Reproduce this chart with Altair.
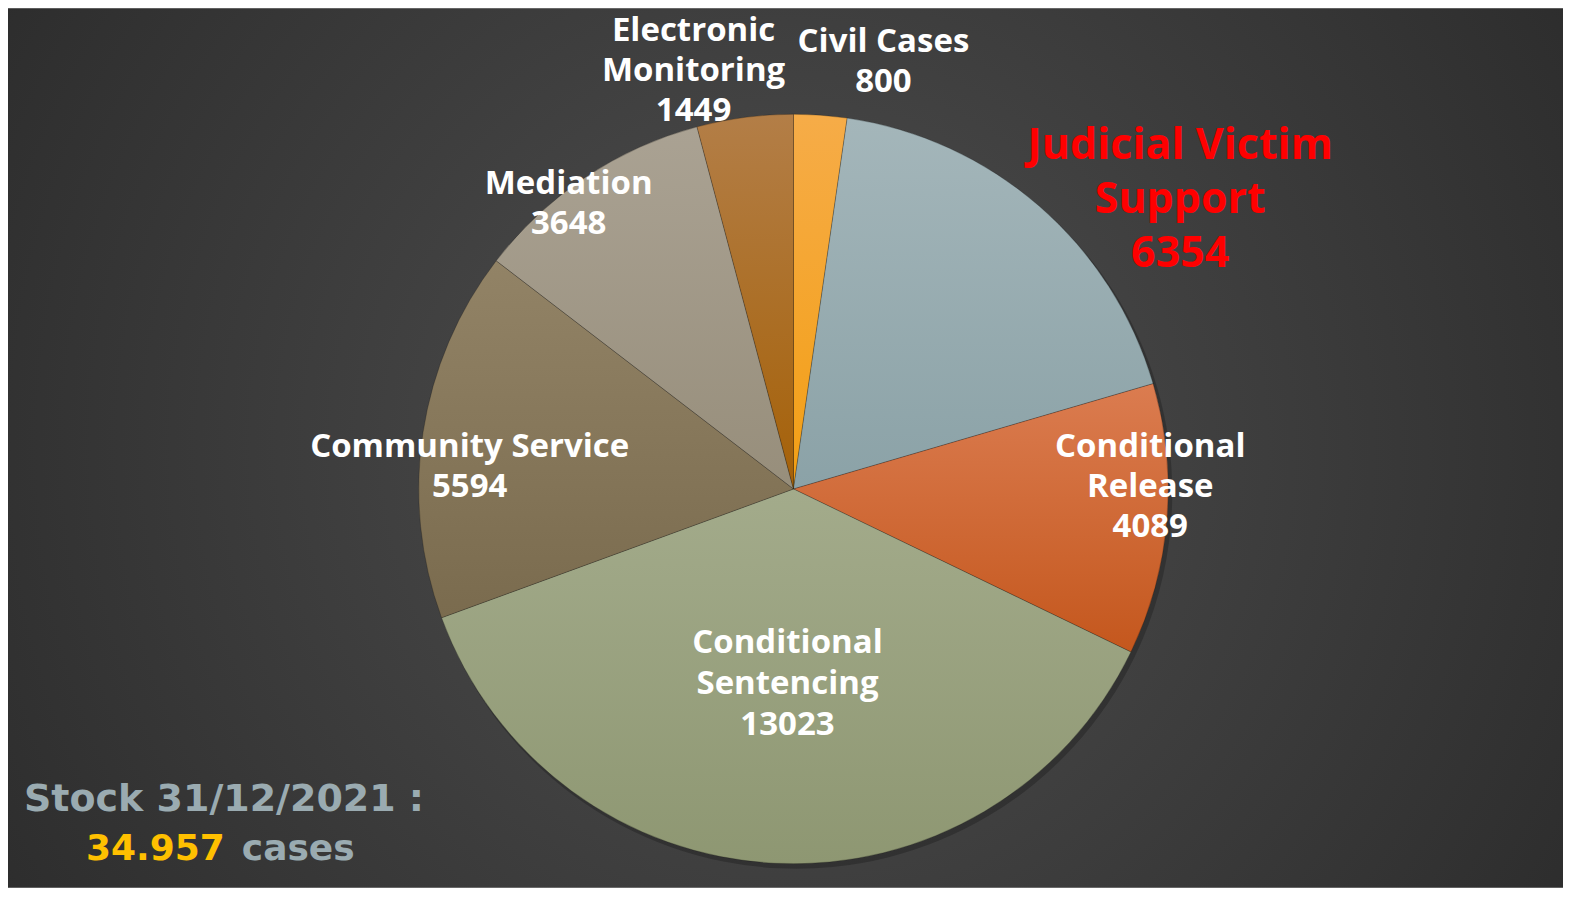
import altair as alt
import pandas as pd

# ---------------- data ----------------
categories = ["Civil Cases", "Judicial Victim Support", "Conditional Release",
              "Conditional Sentencing", "Community Service", "Mediation",
              "Electronic Monitoring"]
label_names = ["Civil Cases", "Judicial Victim\nSupport", "Conditional\nRelease",
               "Conditional\nSentencing", "Community Service", "Mediation",
               "Electronic\nMonitoring"]
values = [800, 6354, 4089, 13023, 5594, 3648, 1449]
footer_line1 = "Stock 31/12/2021 :"
footer_total = "34.957"
footer_unit = "cases"

# ---------------- styles / layout ----------------
W, H = 1556, 880
CX, CY, R = 786, 481, 375

slice_colors = {
    "Civil Cases": ("#F6AC48", "#F39F14"),
    "Judicial Victim Support": ("#A4B6BA", "#8BA2A7"),
    "Conditional Release": ("#DB7C50", "#C4571D"),
    "Conditional Sentencing": ("#A3AB8B", "#8E9772"),
    "Community Service": ("#928366", "#7A6B4E"),
    "Mediation": ("#AAA293", "#978E7B"),
    "Electronic Monitoring": ("#B37E47", "#A56108"),
}

# (x centre, y of first line, font size, line height, colour)
label_pos = {
    "Civil Cases": (876, 34, 33, 40, "white"),
    "Judicial Victim Support": (1173, 138, 43, 54, "#FF0000"),
    "Conditional Release": (1143, 439, 33, 40, "white"),
    "Conditional Sentencing": (780, 635, 33, 41, "white"),
    "Community Service": (462, 439, 33, 40, "white"),
    "Mediation": (561, 176, 33, 40, "white"),
    "Electronic Monitoring": (686, 23, 33, 40, "white"),
}

df = pd.DataFrame({
    "category": categories,
    "name": label_names,
    "value": values,
    "order": list(range(len(categories))),
})

base = (
    alt.Chart(df)
    .transform_joinaggregate(total="sum(value)")
    .transform_window(cum="sum(value)", sort=[alt.SortField("order")], frame=[None, 0])
    .transform_calculate(
        t2="2*PI*datum.cum/datum.total",
        t1="2*PI*(datum.cum-datum.value)/datum.total",
        text="datum.name + '\\n' + datum.value",
    )
)

# background with radial gradient
bg = alt.Chart(pd.DataFrame({"a": [0]})).mark_rect(
    fill=alt.Gradient(
        gradient="radial",
        stops=[alt.GradientStop(offset=0, color="#4f4f4f"),
               alt.GradientStop(offset=1, color="#252525")],
        x1=0.5, y1=0.5, r1=0, x2=0.5, y2=0.5, r2=0.72,
    )
).encode(x=alt.value(0), x2=alt.value(W), y=alt.value(0), y2=alt.value(H))

# soft shadow of the pie
shadow = base.mark_arc(radius=R + 1, color="#000000", opacity=0.22).encode(
    theta=alt.Theta("t1:Q", scale=None), theta2="t2:Q",
    x=alt.value(CX + 3), y=alt.value(CY + 4),
)

layers = [bg, shadow]
for cat in categories:
    top, bot = slice_colors[cat]
    layers.append(
        base.transform_filter(alt.datum.category == cat)
        .mark_arc(
            radius=R,
            fill=alt.Gradient(
                gradient="linear",
                stops=[alt.GradientStop(offset=0, color=top),
                       alt.GradientStop(offset=1, color=bot)],
                x1=0, x2=0, y1=0, y2=1,
            ),
            stroke="#000000", strokeOpacity=0.22, strokeWidth=1,
        )
        .encode(theta=alt.Theta("t1:Q", scale=None), theta2="t2:Q",
                x=alt.value(CX), y=alt.value(CY))
    )

for cat in categories:
    lx, ly, fs, lh, col = label_pos[cat]
    layers.append(
        base.transform_filter(alt.datum.category == cat)
        .mark_text(font="Open Sans", fontWeight="bold", fontSize=fs, color=col,
                   lineBreak="\n", lineHeight=lh, align="center", baseline="middle")
        .encode(text="text:N", x=alt.value(lx), y=alt.value(ly))
    )

foot = pd.DataFrame({"t1": [footer_line1], "t2": [footer_total], "t3": [footer_unit]})
layers.append(
    alt.Chart(foot).mark_text(font="DejaVu Sans", fontWeight="bold", fontSize=38,
                              color="#9AABB1", align="left", baseline="middle")
    .encode(text="t1:N", x=alt.value(16), y=alt.value(792))
)
layers.append(
    alt.Chart(foot).mark_text(font="DejaVu Sans", fontWeight="bold", fontSize=36,
                              color="#FFC000", align="left", baseline="middle")
    .encode(text="t2:N", x=alt.value(78), y=alt.value(841))
)
layers.append(
    alt.Chart(foot).mark_text(font="DejaVu Sans", fontWeight="bold", fontSize=36,
                              color="#9AABB1", align="left", baseline="middle")
    .encode(text="t3:N", x=alt.value(234), y=alt.value(841))
)

chart = alt.layer(*layers).properties(
    width=W, height=H,
    autosize=alt.AutoSizeParams(type="fit", contains="padding"),
    padding=0,
).configure_view(stroke=None).configure(background="white")

chart.save("out.html", embed_options={"renderer": "svg", "actions": False})
